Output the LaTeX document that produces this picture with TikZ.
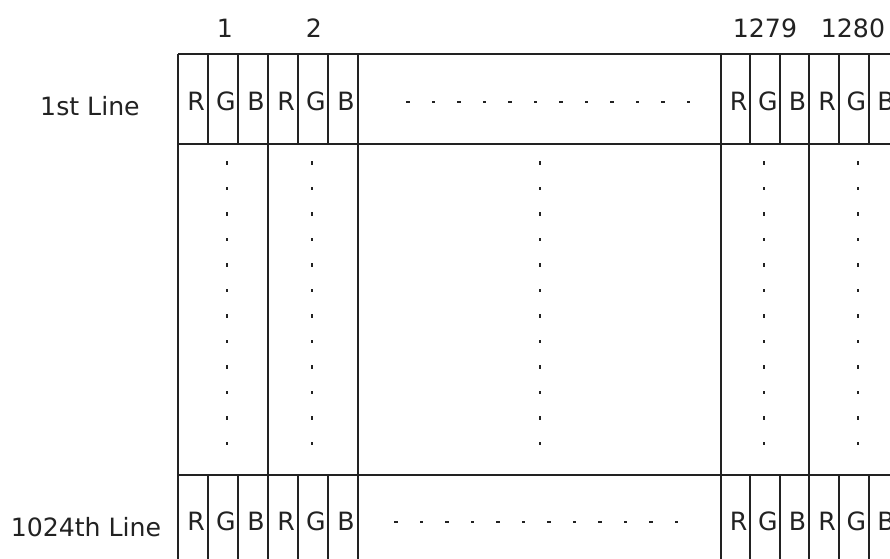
\documentclass[tikz,border=0pt]{standalone}
\usepackage{fontspec}
\setmainfont{DejaVu Sans}
\usetikzlibrary{positioning}
\definecolor{GridLine}{HTML}{222222}
\tikzset{every node/.style={font=\fontsize{21.5}{25}\selectfont,text=GridLine,inner sep=0pt},
 grid/.style={draw=GridLine,line width=0.72mm},dotmark/.style={fill=GridLine}}

\begin{document}
\begin{tikzpicture}[x=0.3mm,y=-0.3mm]
\useasboundingbox (0,0) rectangle (890,558);
\clip (0,0) rectangle (890,558);
% rules of the grid
\foreach \y in {54,144,475} \draw[grid] (178,\y)--(900,\y);
\foreach \x in {178,208,238,268,298,328,358,721,750,780,809,839,869,899} {
  \draw[grid] (\x,54)--(\x,144);
  \draw[grid] (\x,475)--(\x,560);}
\foreach \x in {178,268,358,721,809} \draw[grid] (\x,144)--(\x,475);
% pixel numbers and line names
\node (n1) at (225,28) {1};
\node (n2) at (314,28) {2};
\node (n1279) at (765,28) {1279};
\node (n1280) at (853,28) {1280};
\node (first) at (90,106) {1st Line};
\node (last) at (86,527) {1024th Line};
% sub pixels
\foreach \c [count=\i from 0] in {R,G,B,R,G,B} {
  \node (ta\i) at (196+30*\i,101) {\c};
  \node (tb\i) at (738.5+29.5*\i,101) {\c};
  \node (ba\i) at (196+30*\i,521) {\c};
  \node (bb\i) at (738.5+29.5*\i,521) {\c};}
% dots
\foreach \x in {227,312,540,764,858}
  \foreach \k in {0,...,11} \fill[dotmark] (\x-1.3,163+25.5*\k-1.8) rectangle ++(2.6,3.6);
\foreach \k in {0,...,11} {
  \fill[dotmark] (408+25.5*\k-1.8,102-1.3) rectangle ++(3.6,2.6);
  \fill[dotmark] (396+25.5*\k-1.8,522-1.3) rectangle ++(3.6,2.6);}
\end{tikzpicture}
\end{document}
